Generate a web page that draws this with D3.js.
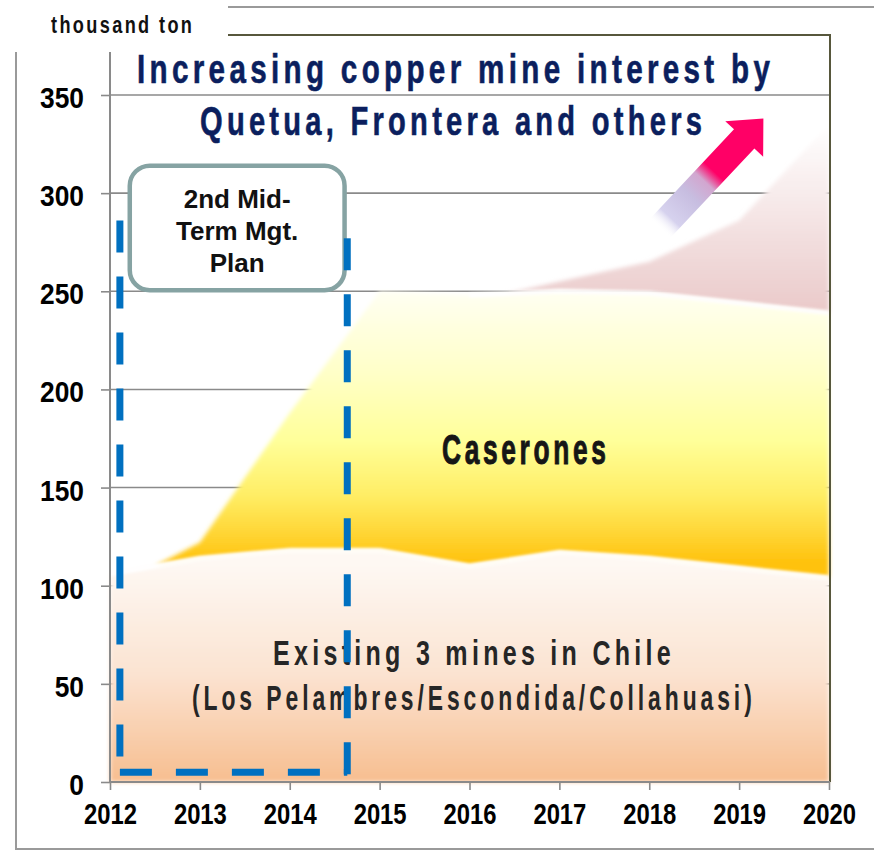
<!DOCTYPE html>
<html><head><meta charset="utf-8">
<script src="https://cdn.jsdelivr.net/npm/d3@7/dist/d3.min.js"></script>
<style>body{margin:0;background:#fff}svg{display:block}</style>
</head><body><svg id="c" width="874" height="850"></svg>
<script>
// ---------- data ----------
const years = [2012, 2013, 2014, 2015, 2016, 2017, 2018, 2019, 2020];
const existingMines = [106, 114, 118, 118, 110, 117, 114, 109, 104];
const caseronesYears = [2012.5, 2013, 2014, 2015, 2016, 2017, 2018, 2019, 2020];
const caserones = [0, 8, 70, 132, 138, 133, 135, 135, 135];
const othersYears = [2016.4, 2017, 2018, 2019, 2020];
const others = [0, 5, 16, 42, 96];
const yTicks = [0, 50, 100, 150, 200, 250, 300, 350];
const xTickLabels = ["2012","2013","2014","2015","2016","2017","2018","2019","2020"];
const planPeriod = [2012.11, 2014.64];
const planTops = [286, 277];
const planBottom = 5;
const arrowFrom = [2018.12, 282];
const arrowTo = [2019.27, 338];

// ---------- setup ----------
const svg = d3.select("#c");
const x = d3.scaleLinear().domain([2012, 2020]).range([110, 829]);
const y = d3.scaleLinear().domain([0, 350]).range([782, 95]);
const defs = svg.append("defs");
const FONT = "'Liberation Sans', Arial, sans-serif";

function vgrad(id, y1, y2, stops) {
  const g = defs.append("linearGradient").attr("id", id)
    .attr("gradientUnits", "userSpaceOnUse")
    .attr("x1", 0).attr("x2", 0).attr("y1", y1).attr("y2", y2);
  stops.forEach(s => g.append("stop").attr("offset", s[0]).attr("stop-color", s[1])
    .attr("stop-opacity", s[2] == null ? 1 : s[2]));
}
vgrad("gExist", y(110), y(0), [[0, "#fef8f3"], [0.5, "#fbe3d1"], [1, "#f7be90"]]);
vgrad("gCas", y(250), y(112), [[0, "#fffff2"], [0.3, "#ffffc8"], [0.55, "#ffff9a"], [0.75, "#ffee66"], [0.88, "#ffd83a"], [1, "#ffc20e"]]);
vgrad("gOth", y(335), y(240), [[0, "#ffffff"], [1, "#eacaca"]]);

const soft = defs.append("filter").attr("id", "soft").attr("x", "-5%").attr("y", "-5%").attr("width", "110%").attr("height", "110%");
soft.append("feGaussianBlur").attr("stdDeviation", 2);
const soft2 = defs.append("filter").attr("id", "soft2").attr("x", "-5%").attr("y", "-20%").attr("width", "110%").attr("height", "140%");
soft2.append("feGaussianBlur").attr("stdDeviation", 1.8);

function fitText(parent, str, x0, x1, base, o) {
  const ls = o.ls || 0;
  const t = parent.append("text").attr("x", 0).attr("y", 0)
    .style("font-family", o.family || FONT)
    .style("font-size", o.size + "px")
    .style("font-weight", o.weight || "bold")
    .style("letter-spacing", ls + "px")
    .attr("fill", o.fill || "#111")
    .text(str);
  if (o.stroke) t.attr("stroke", o.fill).attr("stroke-width", o.stroke);
  const w = t.node().getComputedTextLength() - ls;
  const sx = (x1 - x0) / w;
  t.attr("transform", `translate(${x0},${base}) scale(${sx},1)`);
  return t;
}

// ---------- frame ----------
svg.append("rect").attr("width", 874).attr("height", 850).attr("fill", "#fff");
const frame = svg.append("g").attr("stroke", "#9a9a9a").attr("stroke-width", 2).attr("fill", "none");
frame.append("path").attr("d", "M228,7 H874");
frame.append("path").attr("d", "M16,52 V849 H874");

// gridlines
svg.append("g").selectAll("line").data(yTicks.filter(d => d > 0)).join("line")
  .attr("x1", x(2012)).attr("x2", 830)
  .attr("y1", d => y(d)).attr("y2", d => y(d))
  .attr("stroke", "#8a8a8a").attr("stroke-width", 1.6);

// ---------- areas ----------
const eBase = d3.scaleLinear().domain(years).range(existingMines);
const casTotal = caseronesYears.map((yr, i) => eBase(yr) + caserones[i]);
const cBase = d3.scaleLinear().domain(caseronesYears).range(casTotal);

const othersData = othersYears.map((yr, i) => ({ x: yr, y0: cBase(yr), y1: cBase(yr) + others[i] }));
const casData = caseronesYears.map((yr, i) => ({ x: yr, y0: eBase(yr), y1: casTotal[i] }));
const exData = years.map((yr, i) => ({ x: yr, y0: 0, y1: existingMines[i] }));

const area = d3.area().x(d => x(d.x)).y0(d => y(d.y0)).y1(d => y(d.y1));
const areasG = svg.append("g");
areasG.append("path").datum(othersData).attr("d", area).attr("fill", "url(#gOth)").attr("filter", "url(#soft)");
areasG.append("path").datum(casData).attr("d", area).attr("fill", "url(#gCas)").attr("filter", "url(#soft)");
areasG.append("path").datum(exData).attr("d", area).attr("fill", "url(#gExist)").attr("filter", "url(#soft)");

// white soft seams
const topLine = d3.line().x(d => x(d.x)).y(d => y(d.y1));
areasG.append("path").datum(exData).attr("d", topLine).attr("fill", "none")
  .attr("stroke", "#fff").attr("stroke-width", 4).attr("filter", "url(#soft2)");
areasG.append("path").datum(casData.filter(d => d.x >= 2016)).attr("d", topLine).attr("fill", "none")
  .attr("stroke", "#fff").attr("stroke-width", 4).attr("filter", "url(#soft2)");

// ---------- plot border ----------
svg.append("path").attr("d", "M228,35 H830 V782").attr("fill", "none")
  .attr("stroke", "#57573c").attr("stroke-width", 2);

// ---------- axes ----------
const yAxis = svg.append("g").attr("transform", `translate(${x(2012)},0)`)
  .call(d3.axisLeft(y).tickValues(yTicks).tickSize(9).tickPadding(17).tickFormat(d3.format("d")));
yAxis.select(".domain").remove();
yAxis.selectAll(".tick line").attr("stroke", "#8a8a8a").attr("stroke-width", 1.6);
yAxis.append("line").attr("x1", 0).attr("x2", 0).attr("y1", 52).attr("y2", y(0))
  .attr("stroke", "#8a8a8a").attr("stroke-width", 2);
yAxis.selectAll(".tick text").style("font-family", FONT).style("font-size", "29px")
  .style("font-weight", "bold").attr("fill", "#000").attr("dy", "0.38em");
{
  let sx = 1;
  yAxis.selectAll(".tick text").each(function (d) { if (d === 350) sx = 44 / this.getComputedTextLength(); });
  yAxis.selectAll(".tick text").each(function () {
    const ax = +d3.select(this).attr("x");
    d3.select(this).attr("transform", `translate(${ax},1.5) scale(${sx},1) translate(${-ax},0)`);
  });
}

const xAxis = svg.append("g").attr("transform", `translate(0,${y(0)})`)
  .call(d3.axisBottom(x).tickValues(years).tickSize(8).tickPadding(13).tickFormat((d, i) => xTickLabels[i]));
xAxis.select(".domain").attr("stroke", "#8a8a8a").attr("stroke-width", 2).attr("d", `M${x(2012)},0H830`);
xAxis.selectAll(".tick line").attr("stroke", "#8a8a8a").attr("stroke-width", 1.6);
xAxis.selectAll(".tick text").style("font-family", FONT).style("font-size", "30px")
  .style("font-weight", "bold").attr("fill", "#000");
{
  let sx = 1;
  xAxis.selectAll(".tick text").each(function (d) { if (d === 2012) sx = 53 / this.getComputedTextLength(); });
  xAxis.selectAll(".tick text").attr("transform", `scale(${sx},1)`);
}

// ---------- labels ----------
fitText(svg, "thousand ton", 51, 192, 33, { size: 23, ls: 3, fill: "#111" });
fitText(svg, "Increasing copper mine interest by", 137, 770, 83, { size: 41, ls: 6, fill: "#0b1f5e", stroke: 0.6 });
fitText(svg, "Quetua, Frontera and others", 200, 702, 135, { size: 41, ls: 6, fill: "#0b1f5e", stroke: 0.6 });
fitText(svg, "Caserones", 442, 606, 464, { size: 43, ls: 6, fill: "#161616", stroke: 1 });
fitText(svg, "Existing 3 mines in Chile", 273, 671, 665, { size: 35, ls: 6, fill: "#262626" });
fitText(svg, "(Los Pelambres/Escondida/Collahuasi)", 192, 752, 710, { size: 35, ls: 6, fill: "#262626" });

// ---------- arrow ----------
{
  const p0 = [x(arrowFrom[0]), y(arrowFrom[1])];
  const p1 = [x(arrowTo[0]), y(arrowTo[1])];
  const dx = p1[0] - p0[0], dy = p1[1] - p0[1];
  const L = Math.hypot(dx, dy);
  const u = [dx / L, dy / L], n = [-u[1], u[0]];
  const hw = 14, headL = 28, headW = 26;
  const hb = [p1[0] - u[0] * headL, p1[1] - u[1] * headL];
  const P = (b, k) => [b[0] + n[0] * k, b[1] + n[1] * k];
  const pts = [P(p0, hw), P(hb, hw), P(hb, headW), p1, P(hb, -headW), P(hb, -hw), P(p0, -hw)];
  const g = defs.append("linearGradient").attr("id", "gArrow").attr("gradientUnits", "userSpaceOnUse")
    .attr("x1", p0[0]).attr("y1", p0[1]).attr("x2", p1[0]).attr("y2", p1[1]);
  [[0, "#ffffff", 0], [0.1, "#d6d2ee", 1], [0.3, "#c7bde0", 1], [0.43, "#d2a6cf", 1], [0.52, "#ff0066", 1], [1, "#ff0066", 1]]
    .forEach(s => g.append("stop").attr("offset", s[0]).attr("stop-color", s[1]).attr("stop-opacity", s[2]));
  svg.append("path").attr("d", "M" + pts.map(p => p.join(",")).join("L") + "Z").attr("fill", "url(#gArrow)");
}

// ---------- plan box ----------
{
  const bx0 = x(2012.22), bx1 = x(2014.61), by0 = y(314), by1 = y(250.5);
  svg.append("rect").attr("x", bx0).attr("y", by0).attr("width", bx1 - bx0).attr("height", by1 - by0)
    .attr("rx", 20).attr("fill", "#fff").attr("stroke", "#86a3a3").attr("stroke-width", 4.5);
  const cx = (bx0 + bx1) / 2;
  ["2nd Mid-", "Term Mgt.", "Plan"].forEach((s, i) => {
    svg.append("text").attr("x", cx).attr("y", 208 + i * 32).attr("text-anchor", "middle")
      .style("font-family", FONT).style("font-size", "26px").style("font-weight", "bold")
      .attr("fill", "#111").text(s);
  });
}

// ---------- dashed plan outline ----------
{
  const dg = svg.append("g").attr("stroke", "#0070c0").attr("stroke-width", 7)
    .attr("stroke-dasharray", "32,24").attr("fill", "none");
  dg.append("line").attr("x1", x(planPeriod[0])).attr("x2", x(planPeriod[0]))
    .attr("y1", y(planTops[0])).attr("y2", y(planBottom));
  dg.append("line").attr("x1", x(planPeriod[0])).attr("x2", x(planPeriod[1]))
    .attr("y1", y(planBottom)).attr("y2", y(planBottom));
  dg.append("line").attr("x1", x(planPeriod[1])).attr("x2", x(planPeriod[1]))
    .attr("y1", y(planTops[1])).attr("y2", y(1));
}
</script></body></html>
